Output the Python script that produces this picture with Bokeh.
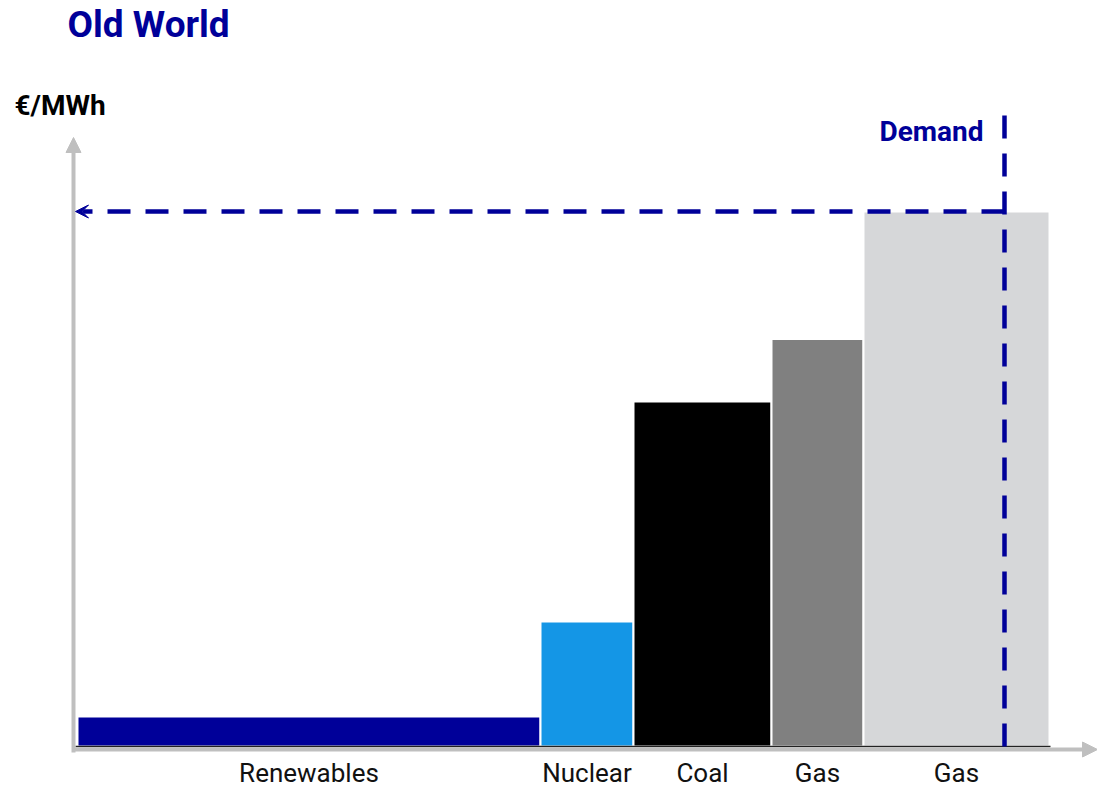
import numpy as np
from bokeh.plotting import figure
from bokeh.models import ColumnDataSource, Label, Arrow, NormalHead, VeeHead
from bokeh.core.properties import value
from bokeh.embed import file_html
from bokeh.resources import INLINE

# Merit order: capacity blocks sorted by marginal cost
categories = ["Renewables", "Nuclear", "Coal", "Gas", "Gas"]
capacity = [46.3, 9.3, 13.8, 9.2, 18.6]          # block widths (GW)
price = [6.0, 25.0, 69.0, 81.5, 107.0]           # marginal cost (€/MWh)
colors = ["#000099", "#1496E6", "#000000", "#808080", "#D6D7D9"]
demand = 92.7                                    # demand level (GW)

NAVY = "#000099"
AXIS_GREY = "#BFBFBF"
FONT = "Roboto"

right = np.cumsum(capacity)
left = right - np.array(capacity)
centers = (left + right) / 2

# clearing price: the block that meets demand sets the price
idx = int(np.searchsorted(right, demand))
clearing = price[idx]

src = ColumnDataSource(dict(left=left, right=right, top=price,
                            bottom=[0] * len(price), color=colors,
                            label=categories, xc=centers,
                            ly=[-5.3] * len(price)))

p = figure(width=1097, height=790, x_range=(-7.7, 102.0), y_range=(-8.8, 149.2),
           output_backend="svg", toolbar_location=None,
           x_axis_location=None, y_axis_location=None, min_border=0)
p.grid.visible = False
p.outline_line_color = None
p.background_fill_color = "white"
p.border_fill_color = "white"

# capacity blocks
p.quad(left="left", right="right", top="top", bottom="bottom", source=src,
       fill_color="color", line_color="white", line_width=2)

# axes drawn as grey arrows
p.add_layout(Arrow(x_start=-0.4, y_start=-1.2, x_end=-0.4, y_end=121.8,
                   line_color=AXIS_GREY, line_width=4,
                   end=NormalHead(size=15, fill_color=AXIS_GREY, line_color=AXIS_GREY)))
p.add_layout(Arrow(x_start=-0.4, y_start=-0.6, x_end=102.0, y_end=-0.6,
                   line_color=AXIS_GREY, line_width=4,
                   end=NormalHead(size=15, fill_color=AXIS_GREY, line_color=AXIS_GREY)))
# thin baseline under the blocks
p.segment(x0=[-0.2], y0=[0], x1=[right[-1] + 0.1], y1=[0],
          line_color="#222222", line_width=1.5)

# demand line and clearing price arrow
p.segment(x0=[demand], y0=[0], x1=[demand], y1=[127.6],
          line_color=NAVY, line_width=4.5, line_dash="23 15")
p.add_layout(Arrow(x_start=demand, y_start=clearing, x_end=-0.2, y_end=clearing,
                   line_color=NAVY, line_width=4.5, line_dash="23 15",
                   end=VeeHead(size=13, fill_color=NAVY, line_color=NAVY,
                               line_width=1)))

# category labels under each block
p.text(x="xc", y="ly", text="label", source=src, text_align="center",
       text_baseline="middle", text_font=value(FONT), text_font_size="26px",
       text_color="#111111")

p.add_layout(Label(x=demand, y=123, x_offset=-21, text="Demand",
                   text_align="right", text_baseline="middle",
                   text_font=FONT, text_font_style="bold",
                   text_font_size="28px", text_color=NAVY))
p.add_layout(Label(x=67, y=766, x_units="screen", y_units="screen",
                   text="Old World", text_baseline="middle",
                   text_font=FONT, text_font_style="bold",
                   text_font_size="37px", text_color=NAVY))
p.add_layout(Label(x=14, y=685, x_units="screen", y_units="screen",
                   text="€/MWh", text_baseline="middle",
                   text_font=FONT, text_font_style="bold",
                   text_font_size="28px", text_color="#000000"))

open("out.html", "w").write(file_html(p, INLINE))
